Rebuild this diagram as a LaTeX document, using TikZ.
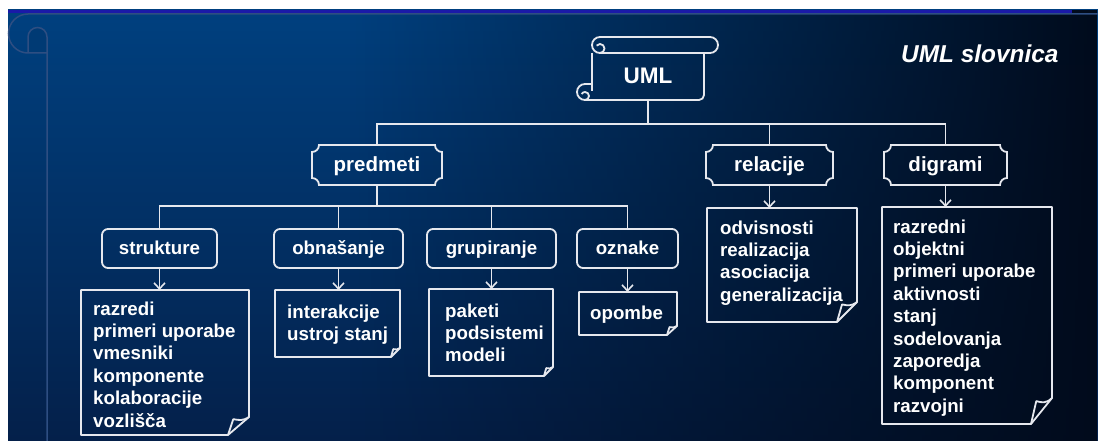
\documentclass[tikz,border=0pt]{standalone}
\usepackage{fontspec}
\setmainfont{Liberation Sans}
\usetikzlibrary{calc,arrows.meta,fadings}

\definecolor{linec}{HTML}{E6E8EE}
\definecolor{bgtop}{HTML}{00407F}
\definecolor{bgbot}{HTML}{04204A}
\definecolor{bgdark}{HTML}{010B1C}
\definecolor{band}{HTML}{1A1AA8}
\definecolor{faint}{HTML}{2E4E82}
\definecolor{curlfill}{HTML}{003A74}

% box with concave (notched) corners around a named node
\newcommand\notchbox[2]{%
  \draw[wline] ($(#1.north west)+(#2,0)$) -- ($(#1.north east)+(-#2,0)$)
    .. controls +(0,0.55*#2) and +(-0.55*#2,0) .. ($(#1.north east)+(0,#2)$)
    -- ($(#1.south east)+(0,-#2)$)
    .. controls +(-0.55*#2,0) and +(0,-0.55*#2) .. ($(#1.south east)+(-#2,0)$)
    -- ($(#1.south west)+(#2,0)$)
    .. controls +(0,-0.55*#2) and +(0.55*#2,0) .. ($(#1.south west)+(0,-#2)$)
    -- ($(#1.north west)+(0,#2)$)
    .. controls +(0.55*#2,0) and +(0,0.55*#2) .. ($(#1.north west)+(#2,0)$)
    -- cycle;}

% note sheet with a turned-up lower right corner (#2 across, #3 up)
\newcommand\notesheet[3]{%
  \draw[wline, line join=round] (#1.north west) -- (#1.north east)
    -- ($(#1.south east)+(0,-#3)$) -- ($(#1.south east)+(-#2,0)$)
    -- (#1.south west) -- cycle;
  \draw[wline, line join=round] ($(#1.south east)+(0,-#3)$)
    .. controls +(-0.3*#2,0.22*#3) and +(0.3*#2,0.06*#3) .. ($(#1.south east)+(-0.75*#2,-0.88*#3)$)
    -- ($(#1.south east)+(-#2,0)$);}

% one text line per node, stacked at a fixed baseline distance
\newcommand\itemlines[4]{%
  \foreach \t [count=\i from 0] in {#4} {\node[item] (#1-\i) at (#2,{#3+22.4*\i}) {\t};}}

\tikzset{
  wline/.style={draw=linec, line width=1.8},
  arr/.style={wline, -{Straight Barb[length=6pt,width=11pt,line width=1.6pt]}},
  faintline/.style={draw=faint, line width=1.5},
  topbox/.style={inner sep=0, outer sep=0, minimum height=40, text height=17, text depth=4,
    text=white, font=\fontsize{20.5}{24}\selectfont\bfseries},
  subbox/.style={draw=linec, line width=1.8, rounded corners=6, inner sep=0, outer sep=0,
    minimum height=39, text height=15, text depth=4,
    text=white, font=\fontsize{18.7}{22.4}\selectfont\bfseries},
  notebox/.style={inner sep=0, outer sep=0},
  item/.style={anchor=base west, inner sep=0, text=white,
    font=\fontsize{18.7}{22.4}\selectfont\bfseries}
}

\begin{document}
\begin{tikzpicture}[x=1pt, y=-1pt]
\useasboundingbox (0,0) rectangle (1098,441);
\fill[white] (0,0) rectangle (1098,441);

% slide background
\shade[top color=bgtop, bottom color=bgbot] (8,10) rectangle (1098,441);
\fill[bgdark, path fading=west] (350,10) rectangle (1098,441);
\fill[band] (8,10) rectangle (1072,13.5);
\fill[bgdark] (1072,10) rectangle (1092,13.5);

% template scroll ornament
\fill[curlfill] (28,53) -- (28,37) arc[start angle=180, end angle=360, radius=9.5] -- (47,53) -- cycle;
\draw[faintline] (47,441) -- (47,37) arc[start angle=0, end angle=-180, radius=9.5] -- (28,53);
\draw[faintline] (1098,14) -- (28,14) arc[start angle=-90, end angle=-270, radius=19.5] -- (47,53);

% heading
\node[anchor=base west, inner sep=0, text=white, font=\fontsize{24.4}{28}\selectfont\bfseries\itshape]
  (title) at (901,63) {UML slovnica};

% root scroll
\node[inner sep=0, outer sep=0, minimum width=112, minimum height=47, text height=19, text depth=4,
  text=white, font=\fontsize{22.5}{26}\selectfont\bfseries] (uml) at (648,76.5) {UML};
\draw[wline, line join=round] (600,37) -- (710,37) arc[start angle=-90, end angle=90, radius=8] -- (600,53)
  arc[start angle=90, end angle=270, radius=8];
\draw[wline] (600,53) arc[start angle=90, end angle=-140, radius=4.5];
\draw[wline] (592,53) -- (592,91);
\draw[wline] (704,53) -- (704,95) arc[start angle=0, end angle=90, radius=5] -- (585,100)
  arc[start angle=90, end angle=270, radius=8] -- (592,84);
\draw[wline] (585,100) arc[start angle=90, end angle=-150, radius=4];

% first level
\node[topbox, minimum width=130] (predmeti) at (377,165) {predmeti};
\node[topbox, minimum width=127] (relacije) at (769.5,165) {relacije};
\node[topbox, minimum width=123] (digrami) at (945.5,165) {digrami};
\notchbox{predmeti}{7}
\notchbox{relacije}{7}
\notchbox{digrami}{7}

\coordinate (bar1) at (648,124);
\draw[wline] (uml.south) -- (bar1);
\draw[wline] (predmeti.north) |- (bar1) -| (digrami.north);
\draw[wline] (relacije.north) -- (relacije.north |- bar1);

% second level
\node[subbox, minimum width=115] (strukture) at (159.5,248.5) {strukture};
\node[subbox, minimum width=129] (obnasanje) at (338.5,248.5) {obnašanje};
\node[subbox, minimum width=129] (grupiranje) at (491.5,248.5) {grupiranje};
\node[subbox, minimum width=101] (oznake) at (627.5,248.5) {oznake};

\coordinate (bar2) at (377,206);
\draw[wline] (predmeti.south) -- (bar2);
\draw[wline] (strukture.north) |- (bar2) -| (oznake.north);
\draw[wline] (obnasanje.north) -- (obnasanje.north |- bar2);
\draw[wline] (grupiranje.north) -- (grupiranje.north |- bar2);

% note sheets
\node[notebox, minimum width=168, minimum height=145] (snote) at (165,362.5) {};
\node[notebox, minimum width=125, minimum height=67] (onote) at (337.5,323.5) {};
\node[notebox, minimum width=124, minimum height=87] (gnote) at (491,332.5) {};
\node[notebox, minimum width=98, minimum height=43] (znote) at (628,313.5) {};
\node[notebox, minimum width=150, minimum height=114] (rnote) at (782,265) {};
\node[notebox, minimum width=170, minimum height=217] (dnote) at (967,315.5) {};
\notesheet{snote}{21}{18}
\notesheet{onote}{9}{9}
\notesheet{gnote}{9}{9}
\notesheet{znote}{10}{9}
\notesheet{rnote}{20}{20}
\notesheet{dnote}{21}{26}

\draw[arr] (strukture.south) -- (strukture.south |- snote.north);
\draw[arr] (obnasanje.south) -- (obnasanje.south |- onote.north);
\draw[arr] (grupiranje.south) -- (grupiranje.south |- gnote.north);
\draw[arr] (oznake.south) -- (oznake.south |- znote.north);
\draw[arr] (relacije.south) -- (relacije.south |- rnote.north);
\draw[arr] (digrami.south) -- (digrami.south |- dnote.north);

% note texts
\itemlines{st}{93}{315}{razredi,primeri uporabe,vmesniki,komponente,kolaboracije,vozlišča}
\itemlines{ob}{287}{318}{interakcije,ustroj stanj}
\itemlines{gr}{445}{317}{paketi,podsistemi,modeli}
\itemlines{oz}{590}{319}{opombe}
\itemlines{re}{720}{234}{odvisnosti,realizacija,asociacija,generalizacija}
\itemlines{di}{893}{233}{razredni,objektni,primeri uporabe,aktivnosti,stanj,sodelovanja,zaporedja,komponent,razvojni}
\end{tikzpicture}
\end{document}
